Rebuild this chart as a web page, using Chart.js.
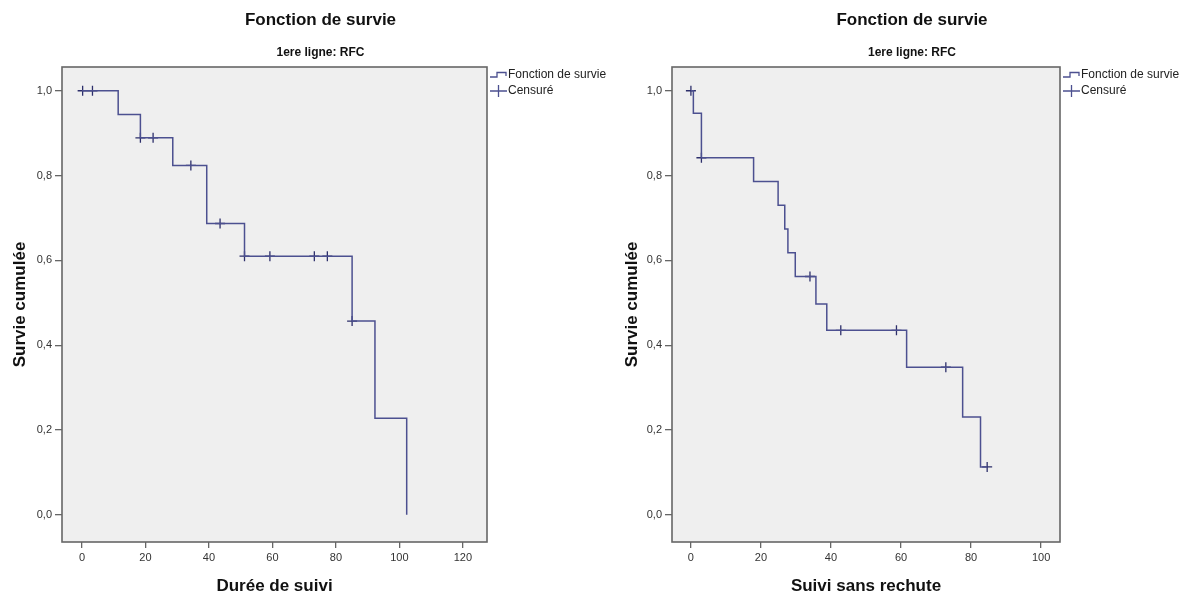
<!DOCTYPE html>
<html>
<head>
<meta charset="utf-8">
<script src="https://cdn.jsdelivr.net/npm/chart.js@4"></script>
<style>
  body { margin: 0; background: #fff; }
  .row { display: flex; width: 1180px; height: 598px; }
</style>
</head>
<body>
<div class="row">
  <canvas id="chartA" width="620" height="598"></canvas>
  <canvas id="chartB" width="560" height="598"></canvas>
</div>
<script>
// left panel: Durée de suivi
const survTimesA = [0, 11.4, 18.4, 28.6, 39.3, 51.2, 85.1, 92.3, 102.3];
const survValsA  = [1.0, 0.944, 0.889, 0.824, 0.687, 0.610, 0.457, 0.228, 0.0];
const censTimesA = [0.2, 3.3, 18.4, 22.4, 34.3, 43.5, 51.2, 59.2, 73.2, 77.3, 85.1];
const censValsA  = [1.0, 1.0, 0.889, 0.889, 0.824, 0.687, 0.610, 0.610, 0.610, 0.610, 0.457];
const xTicksA = [0, 20, 40, 60, 80, 100, 120];

// right panel: Suivi sans rechute
const survTimesB = [0, 0.7, 3.0, 17.9, 24.9, 26.8, 27.7, 29.8, 35.7, 38.8, 61.6, 77.6, 82.7, 84.6];
const survValsB  = [1.0, 0.947, 0.842, 0.786, 0.730, 0.674, 0.618, 0.562, 0.497, 0.435, 0.348, 0.231, 0.113, 0.113];
const censTimesB = [0, 3.0, 34.0, 42.8, 58.7, 72.8, 84.6];
const censValsB  = [1.0, 0.842, 0.562, 0.435, 0.435, 0.348, 0.113];
const xTicksB = [0, 20, 40, 60, 80, 100];

const yTicks = [0, 0.2, 0.4, 0.6, 0.8, 1.0];

const FONT = "'Liberation Sans', Arial, sans-serif";
const LINE = '#4c5090';
const MARK = '#2d2f6b';
const FRAME = '#666666';

const pts = (xs, ys) => xs.map((x, i) => ({ x: x, y: ys[i] }));

const spssPlugin = {
  id: 'spss',
  beforeDraw(chart) {
    const a = chart.chartArea, ctx = chart.ctx;
    ctx.save();
    ctx.fillStyle = '#efefef';
    ctx.fillRect(a.left, a.top, a.right - a.left, a.bottom - a.top);
    ctx.restore();
  },
  afterDraw(chart) {
    const a = chart.chartArea, ctx = chart.ctx;
    ctx.save();
    // frame
    ctx.strokeStyle = FRAME;
    ctx.lineWidth = 1.6;
    ctx.strokeRect(a.left, a.top, a.right - a.left, a.bottom - a.top);

    // titles
    const cx = (a.left + a.right) / 2 + 46;
    ctx.fillStyle = '#111';
    ctx.textAlign = 'center';
    ctx.textBaseline = 'middle';
    ctx.font = 'bold 17px ' + FONT;
    ctx.fillText('Fonction de survie', cx, 20);
    ctx.font = 'bold 12px ' + FONT;
    ctx.fillText('1ere ligne: RFC', cx, 53);

    // legend
    const lx = a.right + 3;
    ctx.strokeStyle = LINE;
    ctx.lineWidth = 1.3;
    ctx.beginPath();
    ctx.moveTo(lx, 77); ctx.lineTo(lx + 7, 77); ctx.lineTo(lx + 7, 72.5);
    ctx.lineTo(lx + 16, 72.5); ctx.lineTo(lx + 16, 76);
    ctx.stroke();
    ctx.beginPath();
    ctx.moveTo(lx, 91); ctx.lineTo(lx + 17, 91);
    ctx.moveTo(lx + 8.5, 85); ctx.lineTo(lx + 8.5, 97);
    ctx.stroke();
    ctx.fillStyle = '#222';
    ctx.textAlign = 'left';
    ctx.font = '12px ' + FONT;
    ctx.fillText('Fonction de survie', lx + 18, 75);
    ctx.fillText('Censuré', lx + 18, 91);
    ctx.restore();
  }
};

function makeChart(id, o) {
  return new Chart(document.getElementById(id), {
    type: 'line',
    data: {
      datasets: [{
        label: 'Fonction de survie',
        data: pts(o.survT, o.survV),
        stepped: 'before',
        borderColor: LINE,
        borderWidth: 1.5,
        pointRadius: 0,
        fill: false
      }, {
        label: 'Censuré',
        data: pts(o.censT, o.censV),
        showLine: false,
        pointStyle: 'cross',
        pointRadius: 5,
        pointBorderWidth: 1.3,
        pointBorderColor: MARK,
        borderColor: MARK
      }]
    },
    options: {
      responsive: false,
      animation: false,
      layout: { padding: { top: 67, right: o.padRight, bottom: 0, left: 0 } },
      plugins: { legend: { display: false }, tooltip: { enabled: false } },
      scales: {
        x: {
          type: 'linear',
          min: o.xMin, max: o.xMax,
          afterBuildTicks: s => { s.ticks = o.xTicks.map(v => ({ value: v })); },
          afterFit: s => { s.height = 56; },
          border: { display: false },
          grid: { drawOnChartArea: false, drawTicks: true, tickLength: 6, color: FRAME, lineWidth: 1.3 },
          ticks: { color: '#333', font: { family: FONT, size: 11 }, padding: 3, callback: v => String(v) },
          title: { display: true, text: o.xTitle, color: '#111', font: { family: FONT, size: 17, weight: 'bold' }, padding: { top: 0, bottom: 1 } }
        },
        y: {
          min: -0.064, max: 1.056,
          afterBuildTicks: s => { s.ticks = yTicks.map(v => ({ value: v })); },
          afterFit: s => { s.width = o.yWidth; },
          border: { display: false },
          grid: { drawOnChartArea: false, drawTicks: true, tickLength: 7, color: FRAME, lineWidth: 1.3 },
          ticks: { color: '#333', font: { family: FONT, size: 11 }, padding: 3, callback: v => v.toFixed(1).replace('.', ',') },
          title: { display: true, text: 'Survie cumulée', color: '#111', font: { family: FONT, size: 17, weight: 'bold' }, padding: { top: o.yTitlePad, bottom: 0 } }
        }
      }
    },
    plugins: [spssPlugin]
  });
}

makeChart('chartA', {
  survT: survTimesA, survV: survValsA, censT: censTimesA, censV: censValsA,
  xMin: -6.3, xMax: 127.6, xTicks: xTicksA, xTitle: 'Durée de suivi',
  yWidth: 62, yTitlePad: 10, padRight: 133
});
makeChart('chartB', {
  survT: survTimesB, survV: survValsB, censT: censTimesB, censV: censValsB,
  xMin: -5.4, xMax: 105.4, xTicks: xTicksB, xTitle: 'Suivi sans rechute',
  yWidth: 52, yTitlePad: 2, padRight: 120
});
</script>
</body>
</html>
